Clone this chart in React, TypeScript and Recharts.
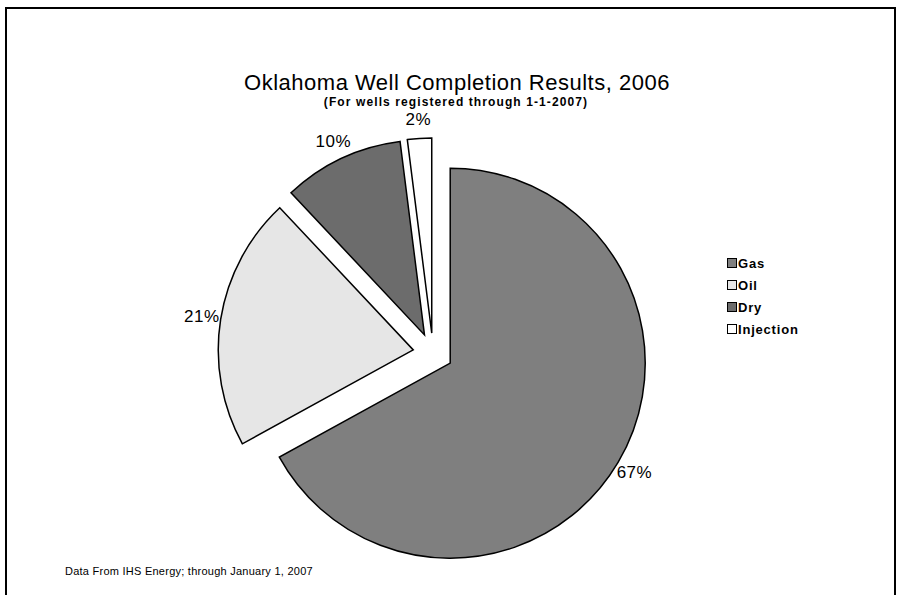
import React from 'react';
import { PieChart, Pie, Cell, Legend } from 'recharts';

const categories = ['Gas', 'Oil', 'Dry', 'Injection'];
const shares = [67, 21, 10, 2];
const pctLabels = ['67%', '21%', '10%', '2%'];
const fills = ['#7f7f7f', '#e6e6e6', '#6c6c6c', '#ffffff'];

const titleText = 'Oklahoma Well Completion Results, 2006';
const subtitleText = '(For wells registered through 1-1-2007)';
const footerText = 'Data From IHS Energy; through January 1, 2007';

const data = categories.map((name, i) => ({ name, value: shares[i] }));

const W = 902;
const H = 595;
const CX = 433;
const CY = 353;
const R = 195;
const EXPLODE = 20;
const FONT = '"Liberation Sans", Arial, sans-serif';
const RAD = Math.PI / 180;

const total = shares.reduce((a, b) => a + b, 0);
const midAngles: number[] = [];
{
  let cum = 0;
  shares.forEach((v) => {
    midAngles.push(90 - (360 * (cum + v / 2)) / total);
    cum += v;
  });
}

const makeLabel = (idx: number) => (props: any) => {
  if (props.index !== idx) return <g key={`l-${props.index}`} />;
  const r = props.outerRadius + 19;
  const x = props.cx + r * Math.cos(-props.midAngle * RAD);
  const y = props.cy + r * Math.sin(-props.midAngle * RAD);
  return (
    <text
      key={`l-${idx}`}
      x={x}
      y={y}
      textAnchor="middle"
      dominantBaseline="central"
      fontFamily={FONT}
      fontSize={17}
      letterSpacing={0.5}
      fill="#000"
    >
      {pctLabels[idx]}
    </text>
  );
};

const LegendContent = () => (
  <div style={{ fontFamily: FONT, fontSize: 13, fontWeight: 'bold', letterSpacing: 0.8, color: '#000' }}>
    {categories.map((c, i) => (
      <div key={c} style={{ display: 'flex', alignItems: 'center', height: 22 }}>
        <span
          style={{
            display: 'inline-block',
            width: 8,
            height: 8,
            background: fills[i],
            border: '1px solid #000',
            marginRight: 1,
          }}
        />
        <span>{c}</span>
      </div>
    ))}
  </div>
);

export default function App() {
  return (
    <div style={{ position: 'absolute', left: 0, top: 0, width: W, height: H, background: '#fff' }}>
      <PieChart width={W} height={H} margin={{ top: 0, right: 0, bottom: 0, left: 0 }}>
        <rect x={6} y={8} width={889} height={620} fill="none" stroke="#000" strokeWidth={2} />
        <text x={457} y={90} textAnchor="middle" fontFamily={FONT} fontSize={22} letterSpacing={0.5} fill="#000">
          {titleText}
        </text>
        <text
          x={456}
          y={106}
          textAnchor="middle"
          fontFamily={FONT}
          fontSize={12}
          fontWeight="bold"
          letterSpacing={1.1}
          fill="#000"
        >
          {subtitleText}
        </text>
        <text x={65} y={575} fontFamily={FONT} fontSize={11} letterSpacing={0.25} fill="#000">
          {footerText}
        </text>
        {categories.map((c, i) => {
          const dx = EXPLODE * Math.cos(midAngles[i] * RAD);
          const dy = -EXPLODE * Math.sin(midAngles[i] * RAD);
          return (
            <Pie
              key={c}
              data={data}
              dataKey="value"
              nameKey="name"
              cx={CX + dx}
              cy={CY + dy}
              outerRadius={R}
              innerRadius={0}
              startAngle={90}
              endAngle={-270}
              isAnimationActive={false}
              label={makeLabel(i)}
              labelLine={false}
              legendType="none"
            >
              {data.map((d, j) => (
                <Cell
                  key={d.name}
                  fill={j === i ? fills[j] : 'none'}
                  stroke={j === i ? '#000' : 'none'}
                  strokeWidth={1.5}
                />
              ))}
            </Pie>
          );
        })}
        <Legend
          content={<LegendContent />}
          wrapperStyle={{ position: 'absolute', left: 727, top: 252, width: 120 }}
        />
      </PieChart>
    </div>
  );
}
